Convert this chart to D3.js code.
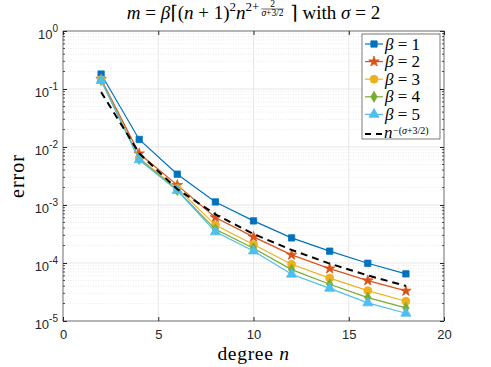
<!DOCTYPE html>
<html>
<head>
<meta charset="utf-8">
<script src="https://cdn.jsdelivr.net/npm/d3@7"></script>
<style>
  body { margin: 0; background: #fff; }
  svg { display: block; }
</style>
</head>
<body>
<div id="chart"></div>
<script>
// data
const degrees = [2, 4, 6, 8, 10, 12, 14, 16, 18];
const beta1 = [0.181, 0.0135, 0.0034, 0.00113, 0.000532, 0.000271, 0.00016, 9.9e-5, 6.5e-5];
const beta2 = [0.148, 0.0077, 0.0022, 0.00061, 0.000282, 0.000138, 8.0e-5, 4.98e-5, 3.3e-5];
const beta3 = [0.145, 0.0064, 0.00193, 0.00045, 0.000208, 9.5e-5, 5.5e-5, 3.34e-5, 2.19e-5];
const beta4 = [0.142, 0.0062, 0.0018, 0.00038, 0.00018, 7.7e-5, 4.3e-5, 2.53e-5, 1.68e-5];
const beta5 = [0.140, 0.0060, 0.00178, 0.000344, 0.000161, 6.4e-5, 3.66e-5, 2.05e-5, 1.36e-5];
const rate = [0.0884, 0.0078, 0.00188, 0.000691, 0.000316, 0.000168, 9.77e-5, 6.1e-5, 4.02e-5];
const xTicks = [0, 5, 10, 15, 20];
const yExponents = [0, -1, -2, -3, -4, -5];

const series = [
  { name: '1', values: beta1, color: '#0072BD', symbol: d3.symbolSquare, size: 40 },
  { name: '2', values: beta2, color: '#D95319', symbol: d3.symbolStar, size: 34 },
  { name: '3', values: beta3, color: '#EDB120', symbol: d3.symbolCircle, size: 50 },
  { name: '4', values: beta4, color: '#77AC30', symbol: d3.symbolDiamond, size: 34 },
  { name: '5', values: beta5, color: '#4DBEEE', symbol: d3.symbolTriangle, size: 44 }
];

const width = 491, height = 367;
const mLeft = 63, mRight = 444, mTop = 31, mBottom = 321;
const serif = '"Liberation Serif", "DejaVu Serif", serif';
const sans = '"Liberation Sans", Arial, sans-serif';

const svg = d3.select('#chart').append('svg')
    .attr('width', width)
    .attr('height', height);

const x = d3.scaleLinear([0, 20], [mLeft, mRight]);
const y = d3.scaleLog([1e-5, 1], [mBottom, mTop]);

// grid
const grid = svg.append('g');
for (let e = -5; e < 0; e++) {
  for (let k = 2; k <= 9; k++) {
    grid.append('line')
        .attr('x1', mLeft).attr('x2', mRight)
        .attr('y1', y(k * Math.pow(10, e))).attr('y2', y(k * Math.pow(10, e)))
        .attr('stroke', '#e4e4e4').attr('stroke-width', 0.8)
        .attr('stroke-dasharray', '1,1.5');
  }
}
yExponents.forEach(e => {
  grid.append('line')
      .attr('x1', mLeft).attr('x2', mRight)
      .attr('y1', y(Math.pow(10, e))).attr('y2', y(Math.pow(10, e)))
      .attr('stroke', '#e6e6e6');
});
xTicks.forEach(t => {
  grid.append('line')
      .attr('x1', x(t)).attr('x2', x(t))
      .attr('y1', mTop).attr('y2', mBottom)
      .attr('stroke', '#e6e6e6');
});

// axes
const axisColor = '#262626';
svg.append('g')
    .attr('transform', `translate(0, ${mBottom})`)
    .call(d3.axisBottom(x).tickValues(xTicks).tickSize(-4).tickPadding(9))
    .call(g => g.select('.domain').remove())
    .call(g => g.selectAll('line').attr('stroke', axisColor))
    .call(g => g.selectAll('text').attr('font-family', sans).attr('font-size', 13).attr('fill', axisColor));

svg.append('g')
    .attr('transform', `translate(0, ${mTop})`)
    .call(d3.axisTop(x).tickValues(xTicks).tickSize(-4).tickFormat(''))
    .call(g => g.select('.domain').remove())
    .call(g => g.selectAll('line').attr('stroke', axisColor));

svg.append('g')
    .attr('transform', `translate(${mLeft}, 0)`)
    .call(d3.axisLeft(y).tickValues(yExponents.map(e => Math.pow(10, e))).tickSize(-4).tickFormat(''))
    .call(g => g.select('.domain').remove())
    .call(g => g.selectAll('line').attr('stroke', axisColor));

svg.append('g')
    .attr('transform', `translate(${mRight}, 0)`)
    .call(d3.axisRight(y).tickValues(yExponents.map(e => Math.pow(10, e))).tickSize(-4).tickFormat(''))
    .call(g => g.select('.domain').remove())
    .call(g => g.selectAll('line').attr('stroke', axisColor));

// minor ticks
for (let e = -5; e < 0; e++) {
  for (let k = 2; k <= 9; k++) {
    const yy = y(k * Math.pow(10, e));
    svg.append('line').attr('x1', mLeft).attr('x2', mLeft + 2).attr('y1', yy).attr('y2', yy).attr('stroke', axisColor).attr('stroke-width', 0.8);
    svg.append('line').attr('x1', mRight).attr('x2', mRight - 2).attr('y1', yy).attr('y2', yy).attr('stroke', axisColor).attr('stroke-width', 0.8);
  }
}

// y tick labels 10^e
yExponents.forEach(e => {
  const t = svg.append('text')
      .attr('x', mLeft - 5)
      .attr('y', y(Math.pow(10, e)) + 8)
      .attr('text-anchor', 'end')
      .attr('font-family', sans)
      .attr('font-size', 13)
      .attr('fill', axisColor);
  t.append('tspan').text('10');
  t.append('tspan').attr('dy', -7).attr('font-size', 10).text(String(e));
});

svg.append('rect')
    .attr('x', mLeft).attr('y', mTop)
    .attr('width', mRight - mLeft).attr('height', mBottom - mTop)
    .attr('fill', 'none').attr('stroke', axisColor).attr('stroke-width', 0.6);

// lines
const line = d3.line().x((d, i) => x(degrees[i])).y(d => y(d));

series.forEach(s => {
  svg.append('path')
      .datum(s.values)
      .attr('d', line)
      .attr('fill', 'none')
      .attr('stroke', s.color)
      .attr('stroke-width', 1.2);
  svg.selectAll(null)
      .data(s.values)
      .join('path')
      .attr('transform', (d, i) => `translate(${x(degrees[i])}, ${y(d)})`)
      .attr('d', d3.symbol(s.symbol, s.size))
      .attr('fill', s.color)
      .attr('stroke', s.color)
      .attr('stroke-width', 0.8);
});

svg.append('path')
    .datum(rate)
    .attr('d', line)
    .attr('fill', 'none')
    .attr('stroke', '#000')
    .attr('stroke-width', 2)
    .attr('stroke-dasharray', '7,5');

// legend
const lg = svg.append('g');
lg.append('rect')
    .attr('x', 362).attr('y', 34)
    .attr('width', 78).attr('height', 105)
    .attr('fill', '#fff').attr('stroke', axisColor).attr('stroke-width', 0.6);

series.forEach((s, i) => {
  const yy = 44 + i * 17.6;
  lg.append('line').attr('x1', 365).attr('x2', 383).attr('y1', yy).attr('y2', yy)
      .attr('stroke', s.color).attr('stroke-width', 1.2);
  lg.append('path').attr('transform', `translate(374, ${yy})`)
      .attr('d', d3.symbol(s.symbol, s.size)).attr('fill', s.color).attr('stroke', s.color).attr('stroke-width', 0.8);
  const t = lg.append('text').attr('x', 385).attr('y', yy + 5.5)
      .attr('font-family', serif).attr('font-size', 17).attr('fill', '#000');
  t.append('tspan').attr('font-style', 'italic').text('β');
  t.append('tspan').text(' = ' + s.name);
});
{
  const yy = 133;
  lg.append('line').attr('x1', 365).attr('x2', 383).attr('y1', yy + 1).attr('y2', yy + 1)
      .attr('stroke', '#000').attr('stroke-width', 2).attr('stroke-dasharray', '6,5');
  const t = lg.append('text').attr('x', 384).attr('y', yy + 5)
      .attr('font-family', serif).attr('font-size', 17).attr('fill', '#000');
  t.append('tspan').attr('font-style', 'italic').text('n');
  const sup = lg.append('text').attr('x', 393).attr('y', yy + 1)
      .attr('font-family', serif).attr('font-size', 10).attr('fill', '#000');
  sup.append('tspan').text('−(');
  sup.append('tspan').attr('font-style', 'italic').text('σ');
  sup.append('tspan').text('+3/2)');
}

// title, laid out piece by piece
const title = svg.append('g');
const parts = [
  { t: 'm', it: true }, { t: ' = ' }, { t: 'β', it: true }, { t: '⌈(' }, { t: 'n', it: true },
  { t: ' + 1)' }, { t: '2', fs: 13, dy: -8 }, { t: 'n', it: true }, { t: '2+', fs: 13, dy: -8 },
  { frac: true }, { t: ' ⌉' }, { t: ' with ' }, { t: 'σ', it: true }, { t: ' = 2' }
];
let cx = 0;
const base = 19;
parts.forEach(p => {
  if (p.frac) {
    const num = title.append('text').attr('y', base - 12.5).attr('font-family', serif).attr('font-size', 9.5).attr('text-anchor', 'middle').text('2');
    const den = title.append('text').attr('y', base - 3).attr('font-family', serif).attr('font-size', 9.5).attr('text-anchor', 'middle');
    den.append('tspan').attr('font-style', 'italic').text('σ');
    den.append('tspan').text('+3/2');
    const w = den.node().getComputedTextLength();
    num.attr('x', cx + 2 + w / 2);
    den.attr('x', cx + 2 + w / 2);
    title.append('line').attr('x1', cx + 2).attr('x2', cx + 2 + w).attr('y1', base - 10).attr('y2', base - 10)
        .attr('stroke', '#000').attr('stroke-width', 0.6);
    cx += w + 4;
    return;
  }
  const t = title.append('text')
      .attr('x', cx).attr('y', base + (p.dy || 0))
      .attr('font-family', serif).attr('font-size', p.fs || 19)
      .attr('font-style', p.it ? 'italic' : 'normal')
      .style('white-space', 'pre')
      .text(p.t);
  cx += t.node().getComputedTextLength();
});
title.attr('transform', `translate(${(mLeft + mRight) / 2 - cx / 2}, 0)`);

// axis labels
const xl = svg.append('text')
    .attr('x', (mLeft + mRight) / 2).attr('y', 360)
    .attr('text-anchor', 'middle')
    .attr('font-family', serif).attr('font-size', 19.5)
    .attr('letter-spacing', 0.7);
xl.append('tspan').text('degree ');
xl.append('tspan').attr('font-style', 'italic').text('n');

svg.append('text')
    .attr('transform', `translate(24, ${(mTop + mBottom) / 2}) rotate(-90)`)
    .attr('text-anchor', 'middle')
    .attr('font-family', serif).attr('font-size', 20)
    .attr('letter-spacing', 1)
    .text('error');
</script>
</body>
</html>
